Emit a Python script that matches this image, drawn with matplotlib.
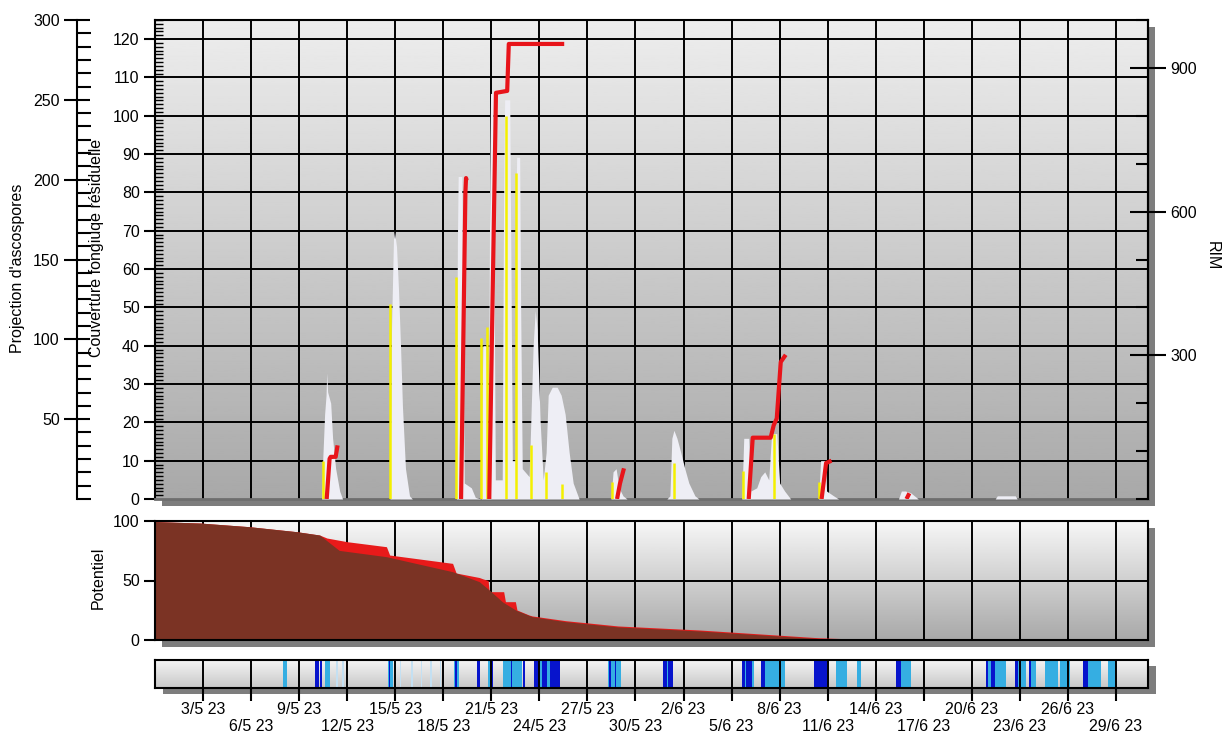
"""Risque tavelure : projections, couverture fongique, RIM, potentiel et pluie."""

from datetime import date, timedelta

import matplotlib
matplotlib.use("Agg")
import matplotlib.pyplot as plt
import numpy as np
from matplotlib.patches import Rectangle
from matplotlib.ticker import MultipleLocator

plt.rcParams["font.family"] = ["Liberation Sans", "DejaVu Sans"]

# jours comptés depuis le 30/4/2023 à 0 h
ORIGINE = date(2023, 4, 30)
JOUR_MAX = 62
TICKS_JOUR = list(range(3, 61, 3))

# projection d'ascospores (aire blanche)
asc_jour = [10.40, 10.47, 10.59, 10.68, 10.72, 10.78, 10.97, 11.09, 11.28, 11.53, 11.71,
            14.67, 14.77, 14.89, 14.95, 15.08, 15.20, 15.33, 15.45, 15.64, 15.89, 16.07,
            18.82, 18.88, 18.93, 19.15, 19.22, 19.31, 19.75, 20.00, 20.37,
            20.42, 20.47, 20.66, 20.72, 20.81, 20.90, 20.95, 21.10, 21.16, 21.25,
            21.68, 21.76, 21.83, 22.15, 22.22, 22.31, 22.49, 22.53, 22.58, 22.77, 22.83, 22.93,
            23.36, 23.61, 23.74, 23.86, 24.05, 24.24, 24.42, 24.55, 24.80, 25.11, 25.36,
            25.61, 25.86, 26.11, 26.48,
            28.47, 28.60, 28.79, 28.97, 29.22, 29.47,
            31.96, 32.15, 32.27, 32.40, 32.59, 32.83, 33.08, 33.33, 33.71, 33.96,
            36.64, 36.76, 37.07, 37.20, 37.57, 37.82, 38.07, 38.32, 38.50, 38.82, 39.00,
            39.31, 39.69,
            41.43, 41.56, 41.81, 41.93, 42.37, 42.68,
            46.42, 46.60, 46.85, 47.17, 47.66,
            52.46, 52.59, 53.71, 53.83]
asc_val = [0, 24, 53, 65, 79, 67, 60, 38, 19, 5, 0,
           0, 108, 163, 168, 158, 132, 96, 58, 19, 2, 0,
           0, 160, 202, 202, 120, 10, 7, 1, 0,
           60, 96, 96, 60, 14, 200, 254, 254, 160, 12,
           12, 180, 250, 250, 150, 24, 24, 170, 214, 214, 120, 19,
           14, 96, 118, 106, 48, 12, 29, 65, 70, 70, 65,
           53, 29, 10, 0,
           0, 17, 19, 7, 2, 0,
           0, 2, 38, 43, 38, 29, 19, 10, 2, 0,
           0, 38, 38, 5, 7, 14, 17, 12, 41, 41, 10,
           5, 0,
           0, 24, 24, 5, 2, 0,
           0, 5, 5, 4, 0,
           0, 2, 2, 0]

# couverture fongique résiduelle (pics jaunes)
couv_jour = [10.47, 14.70, 18.80, 20.36, 20.75, 21.91, 22.54, 23.47, 24.41, 25.42,
             28.54, 32.40, 36.70, 38.63, 41.43]
couv_val = [10, 51, 58, 42, 45, 100, 85, 14, 7, 4, 4.5, 9.4, 7.3, 17, 4.5]

# RIM cumulé par contamination (nan entre deux épisodes)
nan = np.nan
rim_jour = [10.72, 10.90, 10.97, 11.28, 11.40, nan,
            19.11, 19.38, 19.42, 19.45, nan,
            20.87, 21.29, 21.99, 22.09, 25.55, nan,
            28.85, 29.03, 29.28, nan,
            37.07, 37.32, 38.44, 38.63, 38.82, 39.07, 39.38, nan,
            41.62, 41.90, 42.24, nan,
            46.92, 47.10]
rim_val = [0, 84, 88, 88, 112, nan,
           0, 640, 670, 665, nan,
           0, 848, 852, 950, 950, nan,
           0, 32, 64, nan,
           0, 128, 128, 154, 168, 286, 301, nan,
           0, 75, 80, nan,
           0, 12]

# potentiel d'ascospores : avant (rouge) et restant (brun)
pot_jour = [0, 2.8, 5.9, 8.85, 10.28, 11.5, 14.45, 18.58, 20.25, 20.87, 21.7, 22.54,
            23.55, 25.65, 27.73, 28.9, 34, 38.9, 41.4, 44, 48, 62]
pot_restant = [99.5, 98.3, 95.2, 91, 88.2, 75.3, 70, 57.4, 49, 42, 32, 25,
               19.6, 15.4, 12.6, 11, 7.6, 3.4, 1.3, 0.4, 0, 0]
pot_av_jour = [0, 2.8, 5.9, 8.85, 10.28, 10.73, 12.0, 14.45, 14.65, 18.58, 18.8, 20.25,
               20.47, 20.8, 20.87, 21.77, 21.88, 22.5, 22.6, 23.35, 23.55, 25.65, 27.73,
               28.9, 34, 38.9, 41.4, 44, 48, 62]
pot_avant = [99.5, 98.3, 95.2, 91, 88.2, 85.7, 82.6, 78.4, 71.4, 64.4, 56.3, 52.5,
             51.4, 50, 40.6, 40.6, 32.2, 32.2, 25.2, 21, 20.2, 16.2, 13.4,
             11.8, 8.4, 4.1, 1.9, 0.7, 0, 0]

# humectation / pluie : début, fin, classe (0 faible, 1 moyenne, 2 forte)
pluie_debut = [11.3, 11.7, 15.3, 16.0, 16.6, 17.2, 17.8,
               7.98, 10.59, 14.52, 18.69, 20.81, 21.74, 24.0, 24.5, 28.29, 31.95,
               36.85, 37.3, 38.11, 42.55, 43.8, 46.6, 51.9, 53.9, 54.7, 55.58, 56.51,
               58.26, 59.5,
               10.01, 10.28, 14.61, 18.75, 20.1, 21.0, 22.2, 23.0, 23.68, 24.15, 24.65,
               28.35, 28.72, 31.71, 32.05, 36.62, 36.92, 37.86, 41.12, 46.29, 51.9, 52.2,
               53.7, 54.58, 57.94]
pluie_fin = [11.45, 11.8, 15.38, 16.08, 16.68, 17.28, 17.88,
             8.22, 10.90, 14.89, 19.0, 21.06, 22.93, 24.15, 24.65, 29.1, 32.05,
             36.92, 37.38, 39.36, 43.18, 44.11, 47.23, 53.15, 54.4, 55.0, 56.39, 57.13,
             59.07, 60.0,
             10.25, 10.40, 14.70, 18.88, 20.3, 21.12, 22.28, 23.1, 24.0, 24.5, 25.3,
             28.47, 28.79, 31.95, 32.34, 36.85, 37.3, 38.11, 41.93, 46.6, 52.02, 52.46,
             53.9, 54.7, 58.26]
pluie_classe = [0] * 7 + [1] * 23 + [2] * 25

COULEURS_PLUIE = {0: "#C4E0F2", 1: "#35AEE2", 2: "#0714CC"}

W, H = 1231, 739
X0, X1 = 155, 1148


def boite(y0, y1):
    """Position d'un panneau en fraction de figure à partir de pixels."""
    return [X0 / W, 1 - y1 / H, (X1 - X0) / W, (y1 - y0) / H]


def ombre(fig, y0, y1, dx=7, dy=7):
    fig.add_artist(Rectangle(((X0 + dx) / W, 1 - (y1 + dy) / H), (X1 - X0) / W,
                             (y1 - y0) / H, transform=fig.transFigure,
                             color="#7d7d7d", zorder=-1, lw=0))


def degrade(ax, haut, bas):
    ax.imshow(np.linspace(haut, bas, 256)[:, None], cmap="gray", vmin=0, vmax=1,
              extent=[0, 1, 0, 1], transform=ax.transAxes, aspect="auto", zorder=0)


def etiquette(j):
    d = ORIGINE + timedelta(days=j)
    return f"{d.day}/{d.month} 23"


fig = plt.figure(figsize=(W / 100, H / 100), dpi=100)
fs = 11.5

# --- panneau principal ---
ombre(fig, 20, 499)
ax = fig.add_axes(boite(20, 499))
degrade(ax, 0.93, 0.66)
ax.set_xlim(0, JOUR_MAX)
ax.set_ylim(0, 125)
ax.set_xticks(TICKS_JOUR)
ax.set_yticks(range(0, 121, 10))
ax.yaxis.set_minor_locator(MultipleLocator(1))
ax.grid(True, color="black", lw=1.4)
ax.yaxis.get_gridlines()[0].set_visible(False)
ax.tick_params(axis="x", length=0, labelbottom=False)
ax.tick_params(axis="y", which="major", direction="out", length=8, width=1.5,
               labelsize=fs, pad=3)
ax.tick_params(axis="y", which="minor", direction="in", length=6, width=1)
for s in ("left", "top", "right"):
    ax.spines[s].set_linewidth(1.5)
ax.spines["bottom"].set_color("#6e6e6e")
ax.spines["bottom"].set_linewidth(2)

ax_asc = ax.twinx()
ax_asc.set_ylim(0, 300)
ax_asc.fill_between(asc_jour, 0, asc_val, color="#EEEEF5", lw=0)
ax_asc.yaxis.tick_left()
ax_asc.spines["left"].set_position(("axes", (77 - X0) / (X1 - X0)))
ax_asc.spines["left"].set_linewidth(1.5)
for s in ("right", "top", "bottom"):
    ax_asc.spines[s].set_visible(False)
ax_asc.set_yticks(range(50, 301, 50))
ax_asc.yaxis.set_minor_locator(MultipleLocator(50 / 6))
ax_asc.tick_params(axis="y", which="major", direction="inout", length=19, width=1.5,
                   labelsize=fs, pad=3)
ax_asc.tick_params(axis="y", which="minor", direction="in", length=10, width=1.5)

ax_couv = ax.twinx()
ax_couv.set_ylim(0, 125)
ax_couv.vlines(couv_jour, 0, couv_val, color="#F4F000", lw=1.8)
ax_couv.axis("off")

ax_rim = ax.twinx()
ax_rim.set_ylim(0, 1000)
ax_rim.plot(rim_jour, rim_val, color="#E8141A", lw=3, solid_capstyle="butt")
for s in ("left", "top", "bottom"):
    ax_rim.spines[s].set_visible(False)
ax_rim.spines["right"].set_linewidth(1.5)
ax_rim.set_yticks([300, 600, 900])
ax_rim.yaxis.set_minor_locator(MultipleLocator(100))
ax_rim.tick_params(axis="y", which="major", direction="inout", length=26, width=1.5,
                   labelsize=fs, pad=3)
ax_rim.tick_params(axis="y", which="minor", direction="in", length=9, width=1.5)

fig.text(18 / W, 1 - 268 / H, "Projection d'ascospores", rotation=90,
         ha="center", va="center", fontsize=fs)
fig.text(97 / W, 1 - 248 / H, "Couverture fongiuqe résiduelle", rotation=90,
         ha="center", va="center", fontsize=fs)
fig.text(1212 / W, 1 - 256 / H, "RIM", rotation=270,
         ha="center", va="center", fontsize=fs)

# --- potentiel ---
ombre(fig, 521, 640)
ax_pot = fig.add_axes(boite(521, 640))
degrade(ax_pot, 0.97, 0.66)
ax_pot.set_xlim(0, JOUR_MAX)
ax_pot.set_ylim(0, 100)
ax_pot.fill_between(pot_av_jour, 0, pot_avant, color="#E81A1A", lw=0, zorder=2)
ax_pot.fill_between(pot_jour, 0, pot_restant, color="#7B3324", lw=0, zorder=2.1)
ax_pot.set_xticks(TICKS_JOUR)
ax_pot.set_yticks([0, 50, 100])
ax_pot.grid(True, color="black", lw=1.4)
ax_pot.tick_params(axis="x", length=0, labelbottom=False)
ax_pot.tick_params(axis="y", direction="out", length=8, width=1.5, labelsize=fs, pad=3)
for s in ax_pot.spines.values():
    s.set_linewidth(1.5)
fig.text(98 / W, 1 - 578 / H, "Potentiel", rotation=90,
         ha="center", va="center", fontsize=fs)

# --- bande pluie ---
ombre(fig, 660, 688, dx=8, dy=6)
ax_pl = fig.add_axes(boite(660, 688))
degrade(ax_pl, 0.96, 0.78)
ax_pl.set_xlim(0, JOUR_MAX)
ax_pl.set_ylim(0, 1)
for c in (0, 1, 2):
    barres = [(d, f - d) for d, f, k in zip(pluie_debut, pluie_fin, pluie_classe) if k == c]
    ax_pl.broken_barh(barres, (0, 1), color=COULEURS_PLUIE[c], lw=0, zorder=2 + c * 0.1)
ax_pl.set_axisbelow(False)
ax_pl.set_xticks(TICKS_JOUR)
ax_pl.set_xticklabels([("" if i % 2 == 0 else "\n") + etiquette(j)
                       for i, j in enumerate(TICKS_JOUR)], fontsize=fs)
ax_pl.grid(True, axis="x", color="black", lw=1.4)
ax_pl.set_yticks([])
ax_pl.tick_params(axis="x", direction="out", length=9, width=1.5, pad=1)
for s in ax_pl.spines.values():
    s.set_linewidth(1.5)

fig.savefig("out.png", dpi=100)
plt.close(fig)
